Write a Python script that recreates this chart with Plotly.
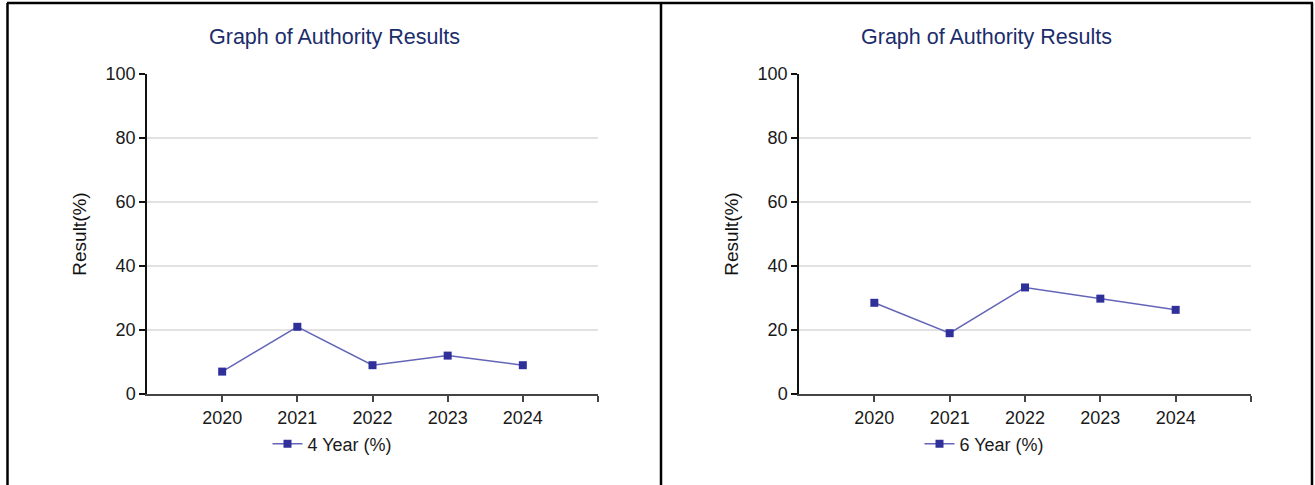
import plotly.graph_objects as go

W, H = 1315, 485

years = [2020, 2021, 2022, 2023, 2024]
tick_labels = ["2020", "2021", "2022", "2023", "2024"]
four_year = [7, 21, 9, 12, 9]
six_year = [28.5, 19, 33.3, 29.8, 26.3]
series_names = ["4 Year (%)", "6 Year (%)"]
chart_title = "Graph of Authority Results"
y_title = "Result(%)"

FONT = "Liberation Sans, Arial, sans-serif"
LINE_COLOR = "#6464b8"
MARKER_COLOR = "#30309a"
TITLE_COLOR = "#1c2d6b"
TEXT_COLOR = "#1a1a1a"

def px_x(p):
    return p / W

def px_y(p):
    return 1 - p / H

fig = go.Figure()

fig.add_trace(go.Scatter(
    x=years, y=four_year, name=series_names[0], mode="lines+markers",
    line=dict(color=LINE_COLOR, width=1.5),
    marker=dict(symbol="square", size=8, color=MARKER_COLOR),
    xaxis="x", yaxis="y", legend="legend",
))
fig.add_trace(go.Scatter(
    x=years, y=six_year, name=series_names[1], mode="lines+markers",
    line=dict(color=LINE_COLOR, width=1.5),
    marker=dict(symbol="square", size=8, color=MARKER_COLOR),
    xaxis="x2", yaxis="y2", legend="legend2",
))

xax = dict(
    range=[min(years) - 1, max(years) + 1],
    tickvals=years + [max(years) + 1],
    ticktext=tick_labels + [""],
    showgrid=False, zeroline=False,
    showline=True, linecolor="#444444", linewidth=2,
    ticks="outside", ticklen=6, tickwidth=1.5, tickcolor="#444444",
    tickfont=dict(family=FONT, size=18, color=TEXT_COLOR),
    fixedrange=True, automargin=False,
)
yax = dict(
    range=[0, 100], dtick=20, tick0=0,
    showgrid=True, gridcolor="#e2e2e2", gridwidth=1.5,
    zeroline=False,
    showline=True, linecolor="#111111", linewidth=1.5,
    ticks="outside", ticklen=6, tickwidth=1.5, tickcolor="#111111",
    tickfont=dict(family=FONT, size=18, color=TEXT_COLOR),
    title=dict(text=y_title, font=dict(family=FONT, size=19, color="#111111"), standoff=14),
    fixedrange=True, automargin=False,
)

y_dom = [px_y(394), px_y(74)]
fig.update_layout(
    width=W, height=H,
    margin=dict(l=0, r=0, t=0, b=0, pad=0, autoexpand=False),
    paper_bgcolor="white", plot_bgcolor="white",
    xaxis=dict(xax, domain=[px_x(147), px_x(598)], anchor="y"),
    yaxis=dict(yax, domain=y_dom, anchor="x"),
    xaxis2=dict(xax, domain=[px_x(799), px_x(1251)], anchor="y2"),
    yaxis2=dict(yax, domain=y_dom, anchor="x2"),
    legend=dict(x=px_x(332.5), y=px_y(444), xanchor="center", yanchor="middle",
                orientation="h", font=dict(family=FONT, size=18, color=TEXT_COLOR),
                bgcolor="rgba(0,0,0,0)"),
    legend2=dict(x=px_x(984.5), y=px_y(444), xanchor="center", yanchor="middle",
                 orientation="h", font=dict(family=FONT, size=18, color=TEXT_COLOR),
                 bgcolor="rgba(0,0,0,0)"),
    showlegend=True,
)

for cx in (334, 987):
    fig.add_annotation(text=chart_title, x=px_x(cx), y=px_y(37), xref="paper", yref="paper",
                       xanchor="center", yanchor="middle", showarrow=False,
                       font=dict(family=FONT, size=21.5, color=TITLE_COLOR))

# table-like borders
border = dict(color="black", width=2.5)
fig.add_shape(type="line", xref="paper", yref="paper", x0=px_x(7), x1=px_x(1313), y0=px_y(3), y1=px_y(3), line=border)
for bx in (7.5, 661, 1312):
    fig.add_shape(type="line", xref="paper", yref="paper", x0=px_x(bx), x1=px_x(bx), y0=px_y(3), y1=0, line=border)

fig.write_html("out.html", config={"displayModeBar": False},
               post_script="document.body.style.margin='0';")
